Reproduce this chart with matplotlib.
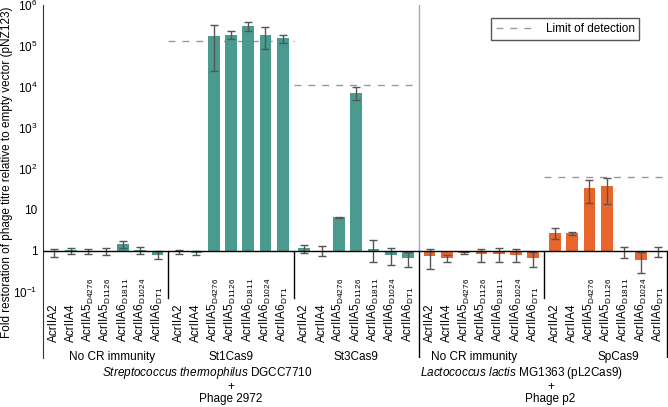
# Imports =====================================================================
import numpy as np
import matplotlib
matplotlib.use("Agg")
import matplotlib.pyplot as plt
from matplotlib.ticker import FixedLocator, FixedFormatter
from matplotlib.lines import Line2D

plt.rcParams["font.family"] = ["Liberation Sans", "DejaVu Sans"]
plt.rcParams["mathtext.fontset"] = "custom"
plt.rcParams["mathtext.rm"] = "Liberation Sans"
plt.rcParams["mathtext.it"] = "Liberation Sans:italic"

# Data ========================================================================
bar_labels = [
    "AcrIIA2", "AcrIIA4",
    r"AcrIIA5$_{\mathrm{D4276}}$", r"AcrIIA5$_{\mathrm{D1126}}$",
    r"AcrIIA6$_{\mathrm{D1811}}$", r"AcrIIA6$_{\mathrm{D1024}}$",
    r"AcrIIA6$_{\mathrm{DT1}}$",
]
group_names = ["No CR immunity", "St1Cas9", "St3Cas9", "No CR immunity", "SpCas9"]

# fold restoration (mean) and error bar bounds, per group
values = [
    [0.93, 1.05, 0.98, 1.0, 1.48, 1.05, 0.80],
    [0.92, 0.90, 1.75e5, 1.9e5, 3.0e5, 1.85e5, 1.55e5],
    [1.16, 1.0, 6.7, 7.0e3, 1.15, 0.80, 0.66],
    [0.76, 0.66, 0.88, 0.83, 0.86, 0.80, 0.69],
    [2.7, 2.7, 34, 38, 0.98, 0.60, 1.0],
]
err_hi = [
    [1.10, 1.20, 1.10, 1.17, 1.75, 1.27, 1.00],
    [1.03, 1.00, 3.2e5, 2.35e5, 3.9e5, 2.9e5, 1.9e5],
    [1.40, 1.35, 6.9, 9.8e3, 1.85, 1.18, 0.93],
    [1.14, 0.80, 0.92, 1.14, 1.18, 1.10, 0.93],
    [3.6, 2.95, 54, 62, 1.23, 0.93, 1.23],
]
err_lo = [
    [0.72, 0.83, 0.85, 0.80, 1.16, 0.85, 0.63],
    [0.83, 0.80, 2.45e4, 1.48e5, 2.3e5, 8.5e4, 1.2e5],
    [0.90, 0.75, 6.5, 4.7e3, 0.54, 0.46, 0.41],
    [0.36, 0.55, 0.85, 0.53, 0.53, 0.55, 0.41],
    [1.96, 2.5, 15, 14, 0.69, 0.29, 0.73],
]
colors = ["#4a9a8f", "#4a9a8f", "#4a9a8f", "#e8652b", "#e8652b"]
# limit of detection per group (None = not shown)
detection = [None, 1.35e5, 1.12e4, None, 65]

host_names = [r"$\it{Streptococcus\ thermophilus}$ DGCC7710",
              r"$\it{Lactococcus\ lactis}$ MG1363 (pL2Cas9)"]
phages = ["Phage 2972", "Phage p2"]

# Plot ========================================================================
fig = plt.figure(figsize=(6.68, 4.07), dpi=100)
ax = fig.add_axes([43 / 668, 49 / 407, 625 / 668, 353 / 407])
ax.set_yscale("log")
ax.set_ylim(10 ** -2.61, 1e6)

step = 7.25
ax.set_xlim(-0.63, 4 * step + 6 + 0.55)
fs = 8.5
tr = ax.get_xaxis_transform()
name_dx = [0.35, 0, 0, -0.45, 0.65]

for g in range(5):
    x = g * step + np.arange(7)
    v = np.array(values[g])
    yerr = [v - np.array(err_lo[g]), np.array(err_hi[g]) - v]
    ax.bar(x, v - 1, bottom=1, width=0.68, color=colors[g], zorder=2)
    ax.errorbar(x, v, yerr=yerr, fmt="none", ecolor="#555555",
                elinewidth=1, capsize=3, capthick=1, zorder=3)
    for xi, lab in zip(x, bar_labels):
        ax.text(xi, 0.045, lab, rotation=90, ha="center", va="bottom",
                fontsize=fs, transform=tr)
    ax.text(g * step + 3 + name_dx[g], 0.003, group_names[g], ha="center",
            va="center", fontsize=fs, transform=tr, clip_on=False)
    if detection[g] is not None:
        ax.plot([g * step - 0.625, g * step + 6.625], [detection[g]] * 2,
                ls=(0, (5, 5)), color="#999999", lw=1, zorder=1)

# baseline and separators
ax.axhline(1, color="black", lw=1, zorder=4)
for g in [1, 2, 4]:
    ax.plot([g * step - 0.625] * 2, [1, 10 ** -1.15], color="black", lw=1)
ax.plot([3 * step - 0.625] * 2, [1, 1e6], color="#aaaaaa", lw=1)
ax.plot([3 * step - 0.625] * 2, [1, 10 ** -2.61], color="black", lw=1)
ax.plot([4 * step + 6.52] * 2, [1, 10 ** -2.61], color="black", lw=1)

# host / phage captions
name_x = [step + 1.65, 3 * step + 5.35]
plus_x = [step + 3, 4 * step - 0.25]
for name, phage, nx, px in zip(host_names, phages, name_x, plus_x):
    ax.text(nx, -0.042, name, ha="center", va="center", fontsize=fs,
            transform=tr, clip_on=False)
    ax.text(px, -0.082, "+", ha="center", va="center", fontsize=fs,
            transform=tr, clip_on=False)
    ax.text(px, -0.116, phage, ha="center", va="center", fontsize=fs,
            transform=tr, clip_on=False)

# axes styling
for s in ["top", "right", "bottom"]:
    ax.spines[s].set_visible(False)
ax.spines["left"].set_color("#333333")
ax.set_xticks([])
yt = [1e-1, 1, 10, 1e2, 1e3, 1e4, 1e5, 1e6]
ax.yaxis.set_major_locator(FixedLocator(yt))
ax.yaxis.set_major_formatter(FixedFormatter(
    [r"10$^{-1}$", "1", "10", r"10$^{2}$", r"10$^{3}$", r"10$^{4}$",
     r"10$^{5}$", r"10$^{6}$"]))
ax.yaxis.set_minor_locator(FixedLocator([]))
ax.tick_params(axis="y", length=0, labelsize=fs, pad=4)
ax.set_ylabel("Fold restoration of phage titre relative to empty vector (pNZ123)",
              fontsize=fs)
ax.yaxis.set_label_coords(-0.048, 0.527)

handle = Line2D([], [], ls=(0, (5, 5)), color="#999999", lw=1)
leg = ax.legend([handle], ["Limit of detection"], loc="upper right",
                bbox_to_anchor=(0.954, 0.963), borderaxespad=0,
                fontsize=fs, fancybox=False, framealpha=1, handlelength=3.4)
leg.get_frame().set_edgecolor("#555555")
leg.get_frame().set_linewidth(1)

plt.savefig("out.png", dpi=100)
